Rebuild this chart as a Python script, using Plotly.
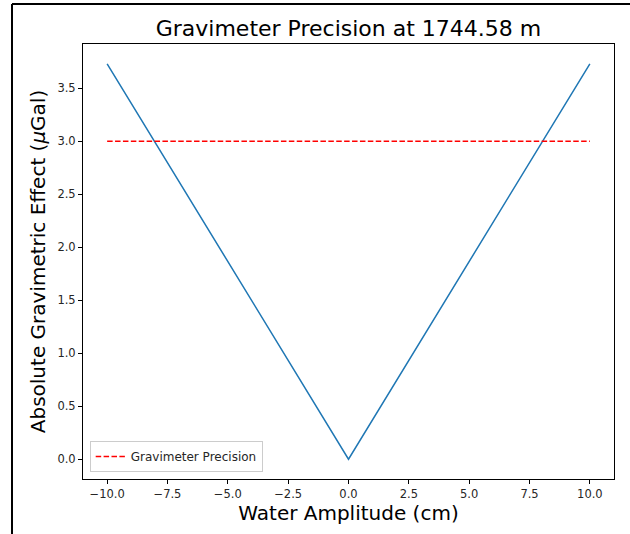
import plotly.graph_objects as go

amplitude_cm = [-10.0, 0.0, 10.0]
gravimetric_effect = [3.73, 0.0, 3.73]
precision_x = [-10.0, 10.0]
precision_y = [3.0, 3.0]
x_ticks = [-10.0, -7.5, -5.0, -2.5, 0.0, 2.5, 5.0, 7.5, 10.0]
y_ticks = [0.0, 0.5, 1.0, 1.5, 2.0, 2.5, 3.0, 3.5]

W, H = 630, 534
L, R, T, B = 83, 16, 44, 55
pw, ph = W - L - R, H - T - B

fig = go.Figure()
fig.add_trace(go.Scatter(x=amplitude_cm, y=gravimetric_effect, mode="lines",
                         line=dict(color="#1f77b4", width=1.5), showlegend=False))
fig.add_trace(go.Scatter(x=precision_x, y=precision_y, mode="lines",
                         name="Gravimeter Precision",
                         line=dict(color="#ff0000", width=1.5, dash="5.5px,2.4px")))

font = "DejaVu Sans"
axis_common = dict(showline=True, linecolor="black", linewidth=1, mirror=True,
                   ticks="outside", ticklen=4, tickcolor="black", tickwidth=1,
                   showgrid=False, zeroline=False,
                   tickfont=dict(family=font, size=11.5, color="#262626"))

fig.update_layout(
    width=W, height=H,
    margin=dict(l=L, r=R, t=T, b=B),
    paper_bgcolor="white", plot_bgcolor="white",
    title=dict(text="Gravimeter Precision at 1744.58 m", xref="paper", x=0.5,
               xanchor="center", y=1 - 28 / H, yanchor="middle",
               font=dict(family=font, size=22, color="black")),
    xaxis=dict(range=[-11, 11], tickvals=x_ticks,
               ticktext=[f"{v:.1f}".replace("-", "\u2212") for v in x_ticks],
               title=dict(text="Water Amplitude (cm)", standoff=4,
                          font=dict(family=font, size=20, color="black")),
               **axis_common),
    yaxis=dict(range=[-0.1865, 3.9165], tickvals=y_ticks,
               ticktext=[f"{v:.1f}" for v in y_ticks],
               title=dict(text="Absolute Gravimetric Effect (<i>\u03bc</i>Gal)", standoff=6,
                          font=dict(family=font, size=20, color="black")),
               **axis_common),
    legend=dict(x=0.0126, y=0.016, xanchor="left", yanchor="bottom",
                bgcolor="rgba(255,255,255,0.8)", bordercolor="#cccccc", borderwidth=1,
                font=dict(family=font, size=12, color="#262626")),
    shapes=[
        dict(type="line", xref="paper", yref="paper",
             x0=(12 - L) / pw, x1=(W + 5 - L) / pw,
             y0=1 + (T - 4) / ph, y1=1 + (T - 4) / ph,
             line=dict(color="black", width=2)),
        dict(type="line", xref="paper", yref="paper",
             x0=(12 - L) / pw, x1=(12 - L) / pw,
             y0=1 + (T - 4) / ph, y1=-(B + 5) / ph,
             line=dict(color="black", width=2)),
    ],
)

fig.write_html("out.html")
